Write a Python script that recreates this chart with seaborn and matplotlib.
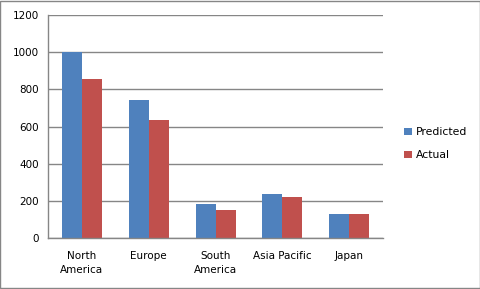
import matplotlib
matplotlib.use("Agg")
import matplotlib.pyplot as plt
import seaborn as sns
import pandas as pd
import numpy as np
from matplotlib.patches import Rectangle
from matplotlib.ticker import FixedLocator

regions = ["North\nAmerica", "Europe", "South\nAmerica", "Asia Pacific", "Japan"]
predicted = [1000, 742, 184, 238, 130]
actual = [855, 635, 152, 222, 130]
series = ["Predicted", "Actual"]
colors = ["#4F81BD", "#C0504D"]
yticks = [0, 200, 400, 600, 800, 1000, 1200]

df = pd.DataFrame({
    "region": regions * 2,
    "value": predicted + actual,
    "series": [series[0]] * len(regions) + [series[1]] * len(regions),
})

sns.set_style("white")
plt.rcParams["font.family"] = ["DejaVu Sans"]
plt.rcParams["text.color"] = "black"
plt.rcParams["xtick.labelcolor"] = "black"
plt.rcParams["ytick.labelcolor"] = "black"

fig = plt.figure(figsize=(4.81, 2.89), dpi=100)
ax = fig.add_axes([0.1008, 0.1754, 0.6948, 0.7736])

sns.barplot(data=df, x="region", y="value", hue="series", hue_order=series,
            palette=colors, order=regions, width=0.6, gap=0, saturation=1,
            ax=ax, legend=True, linewidth=0)

grid_c = "#868686"
ax.set_ylim(0, 1200)
ax.set_xlim(-0.5, len(regions) - 0.5)
ax.set_yticks(yticks)
ax.set_yticklabels([str(v) for v in yticks], fontsize=7.5, color="black")
ax.yaxis.grid(True, color=grid_c, linewidth=1)
ax.set_axisbelow(True)
ax.set_xlabel("")
ax.set_ylabel("")
ax.tick_params(axis="x", which="major", length=0, labelsize=7.5, pad=9, labelcolor="black")
for lbl in ax.get_xticklabels():
    lbl.set_linespacing(1.55)
ax.xaxis.set_minor_locator(FixedLocator(np.arange(-0.5, len(regions), 1.0)))
ax.tick_params(axis="x", which="minor", length=4, color=grid_c, width=1, direction="out")
ax.tick_params(axis="y", length=4, color=grid_c, width=1, direction="out", pad=3)
for s in ["top", "right"]:
    ax.spines[s].set_visible(False)
for s in ["left", "bottom"]:
    ax.spines[s].set_color(grid_c)
    ax.spines[s].set_linewidth(1)

leg = ax.legend(loc="center left", bbox_to_anchor=(1.035, 0.423), frameon=False,
                fontsize=7.8, handlelength=0.72, handleheight=0.72,
                handletextpad=0.35, labelspacing=1.2)
for t in leg.get_texts():
    t.set_color("black")

fig.patches.append(Rectangle((0.001, 0.002), 0.997, 0.995, transform=fig.transFigure,
                             fill=False, edgecolor="#868686", linewidth=1))

fig.savefig("out.png", dpi=100)
